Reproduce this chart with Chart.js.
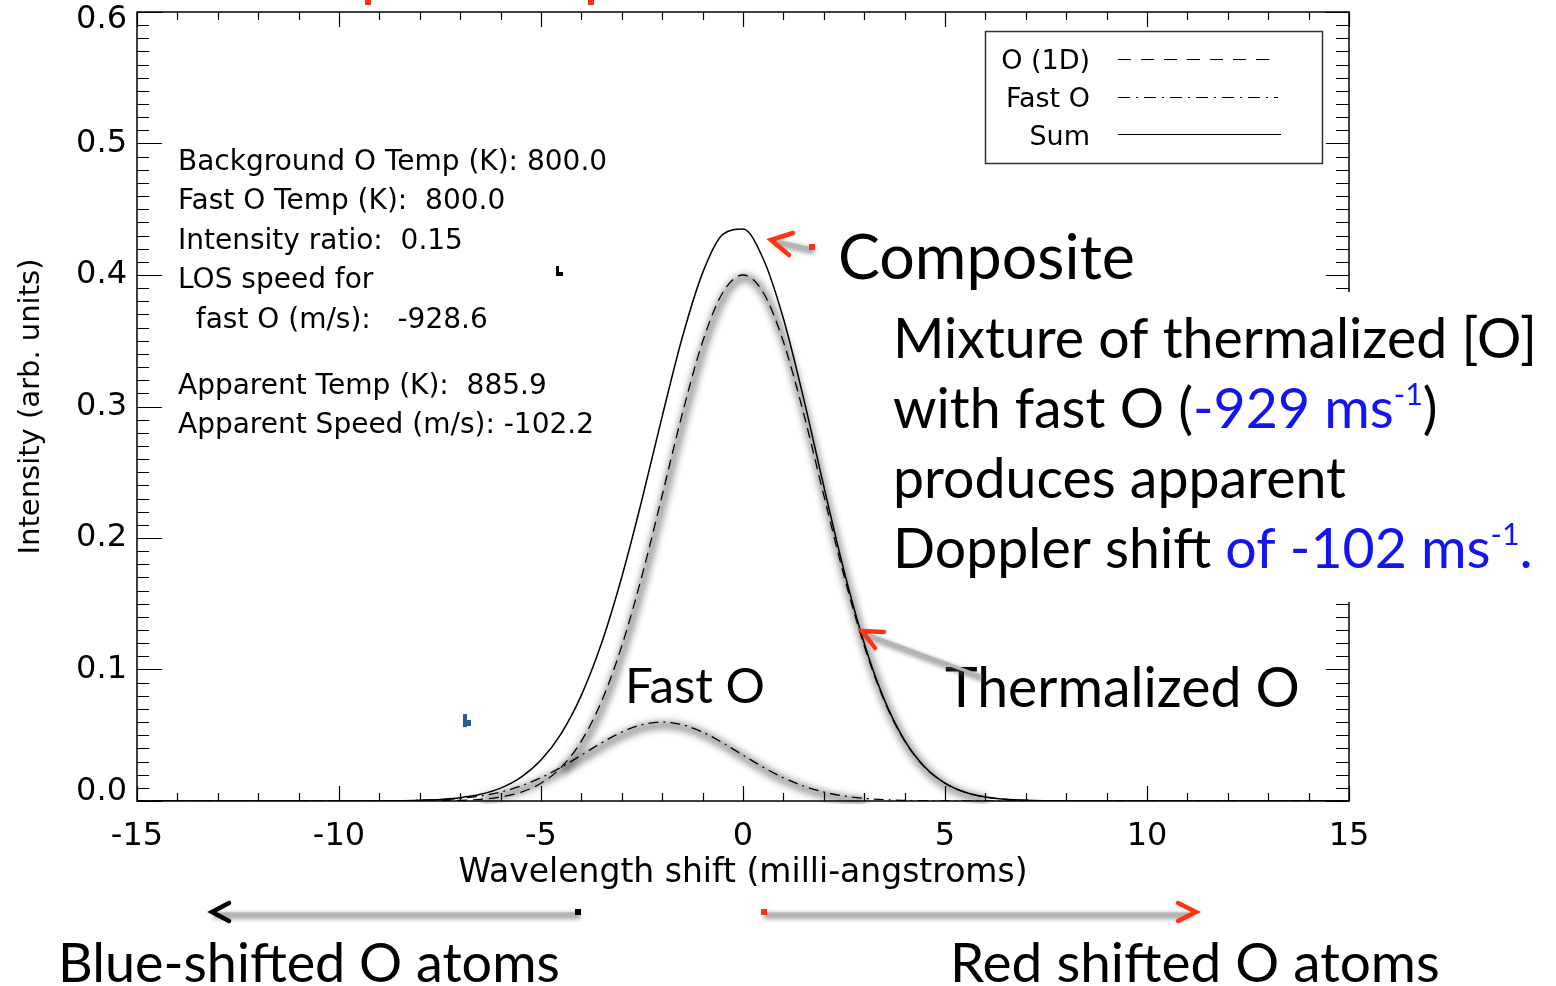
<!DOCTYPE html>
<html>
<head>
<meta charset="utf-8">
<script src="https://cdn.jsdelivr.net/npm/chart.js@4.4.1/dist/chart.umd.min.js"></script>
<style>
  html, body { margin: 0; padding: 0; background: #fff; }
  #wrap { width: 1556px; height: 986px; position: relative; }
</style>
</head>
<body>
<div id="wrap"><canvas id="chart"></canvas></div>
<script>
// wavelength shift (milli-angstroms), half-step grid
const shifts = [
  -15, -14.5, -14, -13.5, -13, -12.5, -12, -11.5, -11, -10.5,
  -10, -9.5, -9, -8.5, -8, -7.5, -7, -6.5, -6, -5.5,
  -5, -4.5, -4, -3.5, -3, -2.5, -2, -1.5, -1, -0.5,
  0,
  0.5, 1, 1.5, 2, 2.5, 3, 3.5, 4, 4.5, 5,
  5.5, 6, 6.5, 7, 7.5, 8, 8.5, 9, 9.5, 10,
  10.5, 11, 11.5, 12, 12.5, 13, 13.5, 14, 14.5, 15,
];

// O (1D) thermalized line, dashed
const thermalO = [
  0, 0, 0, 0, 0, 0, 0, 0, 0, 0,
  0, 0, 0, 0, 0.0001, 0.0002, 0.0005, 0.0013, 0.0030, 0.0066,
  0.0135, 0.0256, 0.0456, 0.0759, 0.1180, 0.1713, 0.2325, 0.2948, 0.3492, 0.3867,
  0.4000,
  0.3867, 0.3492, 0.2948, 0.2325, 0.1713, 0.1180, 0.0759, 0.0456, 0.0256, 0.0135,
  0.0066, 0.0030, 0.0013, 0.0005, 0.0002, 0.0001, 0, 0, 0, 0,
  0, 0, 0, 0, 0, 0, 0, 0, 0, 0,
];

// fast O component, dash-dot
const fastO = [
  0, 0, 0, 0, 0, 0, 0, 0, 0, 0,
  0, 0, 0.0001, 0.0002, 0.0005, 0.0010, 0.0020, 0.0038, 0.0068, 0.0114,
  0.0177, 0.0257, 0.0349, 0.0442, 0.0524, 0.0580, 0.0600, 0.0580, 0.0524, 0.0442,
  0.0349,
  0.0257, 0.0177, 0.0114, 0.0068, 0.0038, 0.0020, 0.0010, 0.0005, 0.0002, 0.0001,
  0, 0, 0, 0, 0, 0, 0, 0, 0, 0,
  0, 0, 0, 0, 0, 0, 0, 0, 0, 0,
];

// composite (sum), solid
const sumO = [
  0, 0, 0, 0, 0, 0, 0, 0, 0, 0,
  0, 0, 0.0001, 0.0002, 0.0006, 0.0012, 0.0025, 0.0051, 0.0098, 0.0180,
  0.0312, 0.0513, 0.0805, 0.1201, 0.1704, 0.2293, 0.2925, 0.3528, 0.4016, 0.4309,
  0.4349,
  0.4124, 0.3669, 0.3062, 0.2393, 0.1751, 0.1200, 0.0769, 0.0461, 0.0258, 0.0136,
  0.0066, 0.0030, 0.0013, 0.0005, 0.0002, 0.0001, 0, 0, 0, 0,
  0, 0, 0, 0, 0, 0, 0, 0, 0, 0,
];

const xTicks = [-15, -10, -5, 0, 5, 10, 15];
const yTicks = [0, 0.1, 0.2, 0.3, 0.4, 0.5, 0.6];

const legendNames = ['O (1D)', 'Fast O', 'Sum'];

const infoLines = [
  'Background O Temp (K): 800.0',
  'Fast O Temp (K):  800.0',
  'Intensity ratio:  0.15',
  'LOS speed for',
  '  fast O (m/s):   -928.6',
  'Apparent Temp (K):  885.9',
  'Apparent Speed (m/s): -102.2',
];

// highlighted stretches of the two components (hand-drawn glow on the slide)
const thermalGlowRange = [-4.5, 6];
const fastGlowRange = [-6.5, 3];

const IDL_FONT = '"DejaVu Sans", sans-serif';
const SLIDE_FONT = 'Lato, "Open Sans", sans-serif';
const BLUE = '#1414f0';
const RED = '#ff3312';

const pts = (vals) => shifts.map((x, i) => ({ x, y: vals[i] }));
const ptsIn = (vals, [lo, hi]) => pts(vals).filter(p => p.x >= lo && p.x <= hi);

// draw the glow datasets blurred and slightly offset, like a drop shadow
const glowPlugin = {
  id: 'glow',
  beforeDatasetDraw(chart, args) {
    if (!chart.data.datasets[args.index].glow) return;
    const ctx = chart.ctx;
    ctx.save();
    ctx.filter = 'blur(3px)';
    ctx.translate(2, 3);
  },
  afterDatasetDraw(chart, args) {
    if (chart.data.datasets[args.index].glow) chart.ctx.restore();
  },
};

// IDL style box with inward ticks on all four sides
const framePlugin = {
  id: 'frame',
  afterDatasetsDraw(chart) {
    const { ctx, chartArea: a, scales: { x, y } } = chart;
    ctx.save();
    ctx.strokeStyle = '#000';
    ctx.lineWidth = 1.5;
    ctx.strokeRect(a.left, a.top, a.right - a.left, a.bottom - a.top);
    ctx.lineWidth = 1.2;
    ctx.beginPath();
    for (let v = -15; v <= 15; v++) {
      const px = Math.round(x.getPixelForValue(v)) + 0.5;
      const len = v % 5 === 0 ? 15 : 8;
      ctx.moveTo(px, a.bottom); ctx.lineTo(px, a.bottom - len);
      ctx.moveTo(px, a.top); ctx.lineTo(px, a.top + len);
    }
    for (let k = 0; k <= 60; k++) {
      const py = Math.round(y.getPixelForValue(k / 100)) + 0.5;
      const major = k % 10 === 0;
      ctx.moveTo(a.left, py); ctx.lineTo(a.left + (major ? 25 : 12), py);
      ctx.moveTo(a.right, py); ctx.lineTo(a.right - (major ? 23 : 13), py);
    }
    ctx.stroke();
    ctx.restore();
  },
};

function fitSize(ctx, text, width, family) {
  ctx.font = `100px ${family}`;
  return 100 * width / ctx.measureText(text).width;
}

function shaft(ctx, x1, y1, x2, y2) {
  ctx.save();
  ctx.lineCap = 'round';
  ctx.filter = 'blur(2px)';
  ctx.strokeStyle = 'rgba(90,90,90,0.55)';
  ctx.lineWidth = 6;
  ctx.beginPath(); ctx.moveTo(x1, y1 + 2); ctx.lineTo(x2, y2 + 2); ctx.stroke();
  ctx.filter = 'none';
  ctx.strokeStyle = '#b4b4b4';
  ctx.lineWidth = 3;
  ctx.beginPath(); ctx.moveTo(x1, y1); ctx.lineTo(x2, y2); ctx.stroke();
  ctx.restore();
}

function chevron(ctx, p, color) {
  ctx.save();
  ctx.strokeStyle = color;
  ctx.lineWidth = 4.5;
  ctx.lineCap = 'round';
  ctx.lineJoin = 'miter';
  ctx.beginPath();
  ctx.moveTo(p[0], p[1]); ctx.lineTo(p[2], p[3]); ctx.lineTo(p[4], p[5]);
  ctx.stroke();
  ctx.restore();
}

function richLine(ctx, parts, x, y, size) {
  let cx = x;
  for (const [text, kind] of parts) {
    const sup = kind === 'bs';
    ctx.font = `${sup ? size * 0.55 : size}px ${SLIDE_FONT}`;
    ctx.fillStyle = kind === 'k' ? '#000' : BLUE;
    ctx.fillText(text, cx, sup ? y - size * 0.42 : y);
    cx += ctx.measureText(text).width;
  }
}

const notesPlugin = {
  id: 'notes',
  afterDraw(chart) {
    const { ctx } = chart;
    ctx.save();
    ctx.textBaseline = 'alphabetic';

    // fit parameters block
    ctx.fillStyle = '#000';
    ctx.textAlign = 'left';
    ctx.font = `28px ${IDL_FONT}`;
    const infoY = [170, 209, 249, 288, 328, 394, 433];
    infoLines.forEach((t, i) => ctx.fillText(t, 178, infoY[i]));

    // legend box
    ctx.strokeStyle = '#333';
    ctx.lineWidth = 1.5;
    ctx.strokeRect(985.5, 31.5, 337, 132);
    ctx.font = `27px ${IDL_FONT}`;
    ctx.textAlign = 'right';
    const legY = [69, 107, 145];
    const legLineY = [59, 97, 134];
    const legDash = [[13, 10], [12, 6, 2, 6], []];
    legendNames.forEach((name, i) => {
      ctx.fillText(name, 1090, legY[i]);
      ctx.setLineDash(legDash[i]);
      ctx.lineWidth = 1.2;
      ctx.strokeStyle = '#000';
      ctx.beginPath();
      ctx.moveTo(1118, legLineY[i] + 0.5);
      ctx.lineTo(i === 2 ? 1281 : 1278, legLineY[i] + 0.5);
      ctx.stroke();
    });
    ctx.setLineDash([]);
    ctx.textAlign = 'left';

    // white text box of the slide note, hiding part of the right axis
    ctx.fillStyle = '#fff';
    ctx.fillRect(884, 292, 1556 - 884, 310);

    // slide annotations
    const labels = [
      ['Composite', 838, 279, 297],
      ['Fast O', 625, 703, 140],
      ['Thermalized O', 945, 707, 355],
      ['Blue-shifted O atoms', 58, 982, 502],
      ['Red shifted O atoms', 950, 982, 490],
    ];
    ctx.fillStyle = '#000';
    for (const [t, lx, ly, w] of labels) {
      ctx.font = `${fitSize(ctx, t, w, SLIDE_FONT)}px ${SLIDE_FONT}`;
      ctx.fillText(t, lx, ly);
    }

    const noteLines = [
      [['Mixture of thermalized [O]', 'k']],
      [['with fast O (', 'k'], ['-929 ms', 'b'], ['-1', 'bs'], [')', 'k']],
      [['produces apparent', 'k']],
      [['Doppler shift ', 'k'], ['of -102 ms', 'b'], ['-1', 'bs'], ['.', 'b']],
    ];
    const noteSize = fitSize(ctx, 'Mixture of thermalized [O]', 644, SLIDE_FONT);
    noteLines.forEach((parts, i) => richLine(ctx, parts, 893, 358 + 70 * i, noteSize));

    // arrows
    shaft(ctx, 776, 241, 812, 249);
    chevron(ctx, [793, 233, 771, 240, 789, 255], RED);
    ctx.fillStyle = RED;
    ctx.fillRect(809, 244, 6, 6);

    shaft(ctx, 866, 634, 980, 676);
    chevron(ctx, [884, 632, 862, 631, 875, 648], RED);

    shaft(ctx, 216, 914, 578, 914);
    chevron(ctx, [229, 903, 212, 912, 229, 921], '#000');
    ctx.fillStyle = '#000';
    ctx.fillRect(575, 909, 6, 6);

    shaft(ctx, 766, 914, 1190, 914);
    chevron(ctx, [1178, 903, 1196, 912, 1178, 921], RED);
    ctx.fillStyle = RED;
    ctx.fillRect(761, 909, 6, 6);

    // cropped title remnants and stray marks
    ctx.fillRect(365, 0, 6, 5);
    ctx.fillRect(588, 0, 6, 5);
    ctx.fillStyle = '#000';
    ctx.fillRect(556, 266, 3, 10);
    ctx.fillRect(556, 272, 7, 4);
    ctx.fillStyle = '#2b5d8e';
    ctx.fillRect(463, 714, 4, 13);
    ctx.fillRect(463, 720, 8, 6);
    ctx.restore();
  },
};

// IDL nudges the end labels of the y axis inwards
const yLabel = (v) => v === yTicks[yTicks.length - 1] ? ['', v.toFixed(1)]
  : v === yTicks[0] ? [v.toFixed(1), ''] : v.toFixed(1);
const yTickFont = (c) => {
  const v = c.tick ? c.tick.value : null;
  const lh = v === yTicks[yTicks.length - 1] ? '16px' : v === yTicks[0] ? '18px' : 1.2;
  return { family: IDL_FONT, size: 32, lineHeight: lh };
};

new Chart(document.getElementById('chart'), {
  type: 'line',
  data: {
    datasets: [
      {
        label: 'Sum',
        data: pts(sumO),
        borderColor: '#000',
        borderWidth: 1.5,
        order: 0,
      },
      {
        label: 'O (1D)',
        data: pts(thermalO),
        borderColor: '#000',
        borderWidth: 1.3,
        borderDash: [10, 6],
        order: 1,
      },
      {
        label: 'Fast O',
        data: pts(fastO),
        borderColor: '#000',
        borderWidth: 1.3,
        borderDash: [10, 5, 2, 5],
        order: 1,
      },
      {
        label: 'glow thermal',
        data: ptsIn(thermalO, thermalGlowRange),
        borderColor: 'rgba(0,0,0,0.34)',
        borderWidth: 9,
        glow: true,
        order: 5,
      },
      {
        label: 'glow fast',
        data: ptsIn(fastO, fastGlowRange),
        borderColor: 'rgba(0,0,0,0.34)',
        borderWidth: 9,
        glow: true,
        order: 5,
      },
    ],
  },
  options: {
    responsive: true,
    maintainAspectRatio: false,
    animation: false,
    layout: { padding: { top: 12, right: 207, left: 0, bottom: 0 } },
    elements: {
      point: { radius: 0 },
      line: { cubicInterpolationMode: 'monotone', fill: false },
    },
    plugins: {
      legend: { display: false },
      tooltip: { enabled: false },
    },
    scales: {
      x: {
        type: 'linear',
        min: -15,
        max: 15,
        afterBuildTicks: (s) => { s.ticks = xTicks.map(value => ({ value })); },
        ticks: { autoSkip: false, maxRotation: 0, padding: 16, color: '#000', font: { family: IDL_FONT, size: 32 } },
        grid: { display: false, drawTicks: false },
        border: { display: false },
        title: {
          display: true,
          text: 'Wavelength shift (milli-angstroms)',
          color: '#000',
          font: { family: IDL_FONT, size: 33 },
          padding: { top: 0, bottom: 93 },
        },
        afterFit: (s) => { s.height = 185; s.paddingLeft = 0; s.paddingRight = 0; },
      },
      y: {
        min: 0,
        max: 0.6,
        afterBuildTicks: (s) => { s.ticks = yTicks.map(value => ({ value })); },
        ticks: { padding: 10, color: '#000', font: yTickFont, callback: yLabel },
        grid: { display: false, drawTicks: false },
        border: { display: false },
        title: {
          display: true,
          text: 'Intensity (arb. units)',
          color: '#000',
          font: { family: IDL_FONT, size: 29 },
          padding: { top: 14, bottom: 0 },
        },
        afterFit: (s) => { s.width = 137; s.paddingTop = 0; s.paddingBottom = 0; },
      },
    },
  },
  plugins: [glowPlugin, framePlugin, notesPlugin],
});
</script>
</body>
</html>
